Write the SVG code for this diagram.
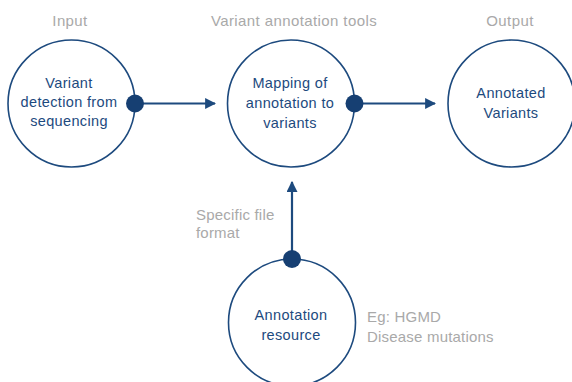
<svg xmlns="http://www.w3.org/2000/svg" width="572" height="382" viewBox="0 0 572 382">
<style>
.node{fill:#fff;stroke:#1d4a7e;stroke-width:1.6}
.t{font-family:"Liberation Sans",Arial,sans-serif;font-size:14.5px;letter-spacing:0.35px;fill:#1d4a7e;text-anchor:middle}
.g{font-family:"Liberation Sans",Arial,sans-serif;font-size:15px;letter-spacing:0.2px;fill:#a9a9a9}
.gt{letter-spacing:0.4px;text-anchor:middle}
.conn{stroke:#1d4a7e;stroke-width:2.2;fill:none}
.dot{fill:#163f72}
</style>
<defs>
<marker id="ah" viewBox="0 0 10 10" refX="9" refY="5" markerWidth="5" markerHeight="5" orient="auto" markerUnits="strokeWidth">
<path d="M0,0 L10,5 L0,10 z" fill="#1d4a7e"/>
</marker>
</defs>
<rect width="572" height="382" fill="#fff"/>
<text class="g gt" x="70" y="26">Input</text>
<text class="g gt" x="294" y="26">Variant annotation tools</text>
<text class="g gt" x="510" y="26">Output</text>
<g id="input">
<circle class="node" cx="71.5" cy="103.5" r="63.5"/>
<text class="t" x="69" y="88">Variant</text>
<text class="t" x="69" y="107">detection from</text>
<text class="t" x="69" y="126">sequencing</text>
</g>
<g id="mapping">
<circle class="node" cx="291" cy="103.5" r="63.5"/>
<text class="t" x="290" y="88">Mapping of</text>
<text class="t" x="290" y="108">annotation to</text>
<text class="t" x="290" y="128">variants</text>
</g>
<g id="output">
<circle class="node" cx="511.5" cy="103.5" r="63.5"/>
<text class="t" x="511" y="98">Annotated</text>
<text class="t" x="511" y="118">Variants</text>
</g>
<g id="resource">
<circle class="node" cx="292" cy="322.5" r="63.5"/>
<text class="t" x="291" y="320">Annotation</text>
<text class="t" x="291" y="340">resource</text>
</g>
<g id="connectors">
<line class="conn" x1="135" y1="103.5" x2="215" y2="103.5" marker-end="url(#ah)"/>
<line class="conn" x1="354.5" y1="103.5" x2="435" y2="103.5" marker-end="url(#ah)"/>
<line class="conn" x1="292" y1="259" x2="292" y2="182" marker-end="url(#ah)"/>
<circle class="dot" cx="135" cy="103.5" r="9"/>
<circle class="dot" cx="354.5" cy="103.5" r="9"/>
<circle class="dot" cx="292" cy="259" r="9"/>
</g>
<text class="g" x="196" y="220">Specific file</text>
<text class="g" x="196" y="238">format</text>
<text class="g" x="367" y="322">Eg: HGMD</text>
<text class="g" x="367" y="342">Disease mutations</text>
</svg>
